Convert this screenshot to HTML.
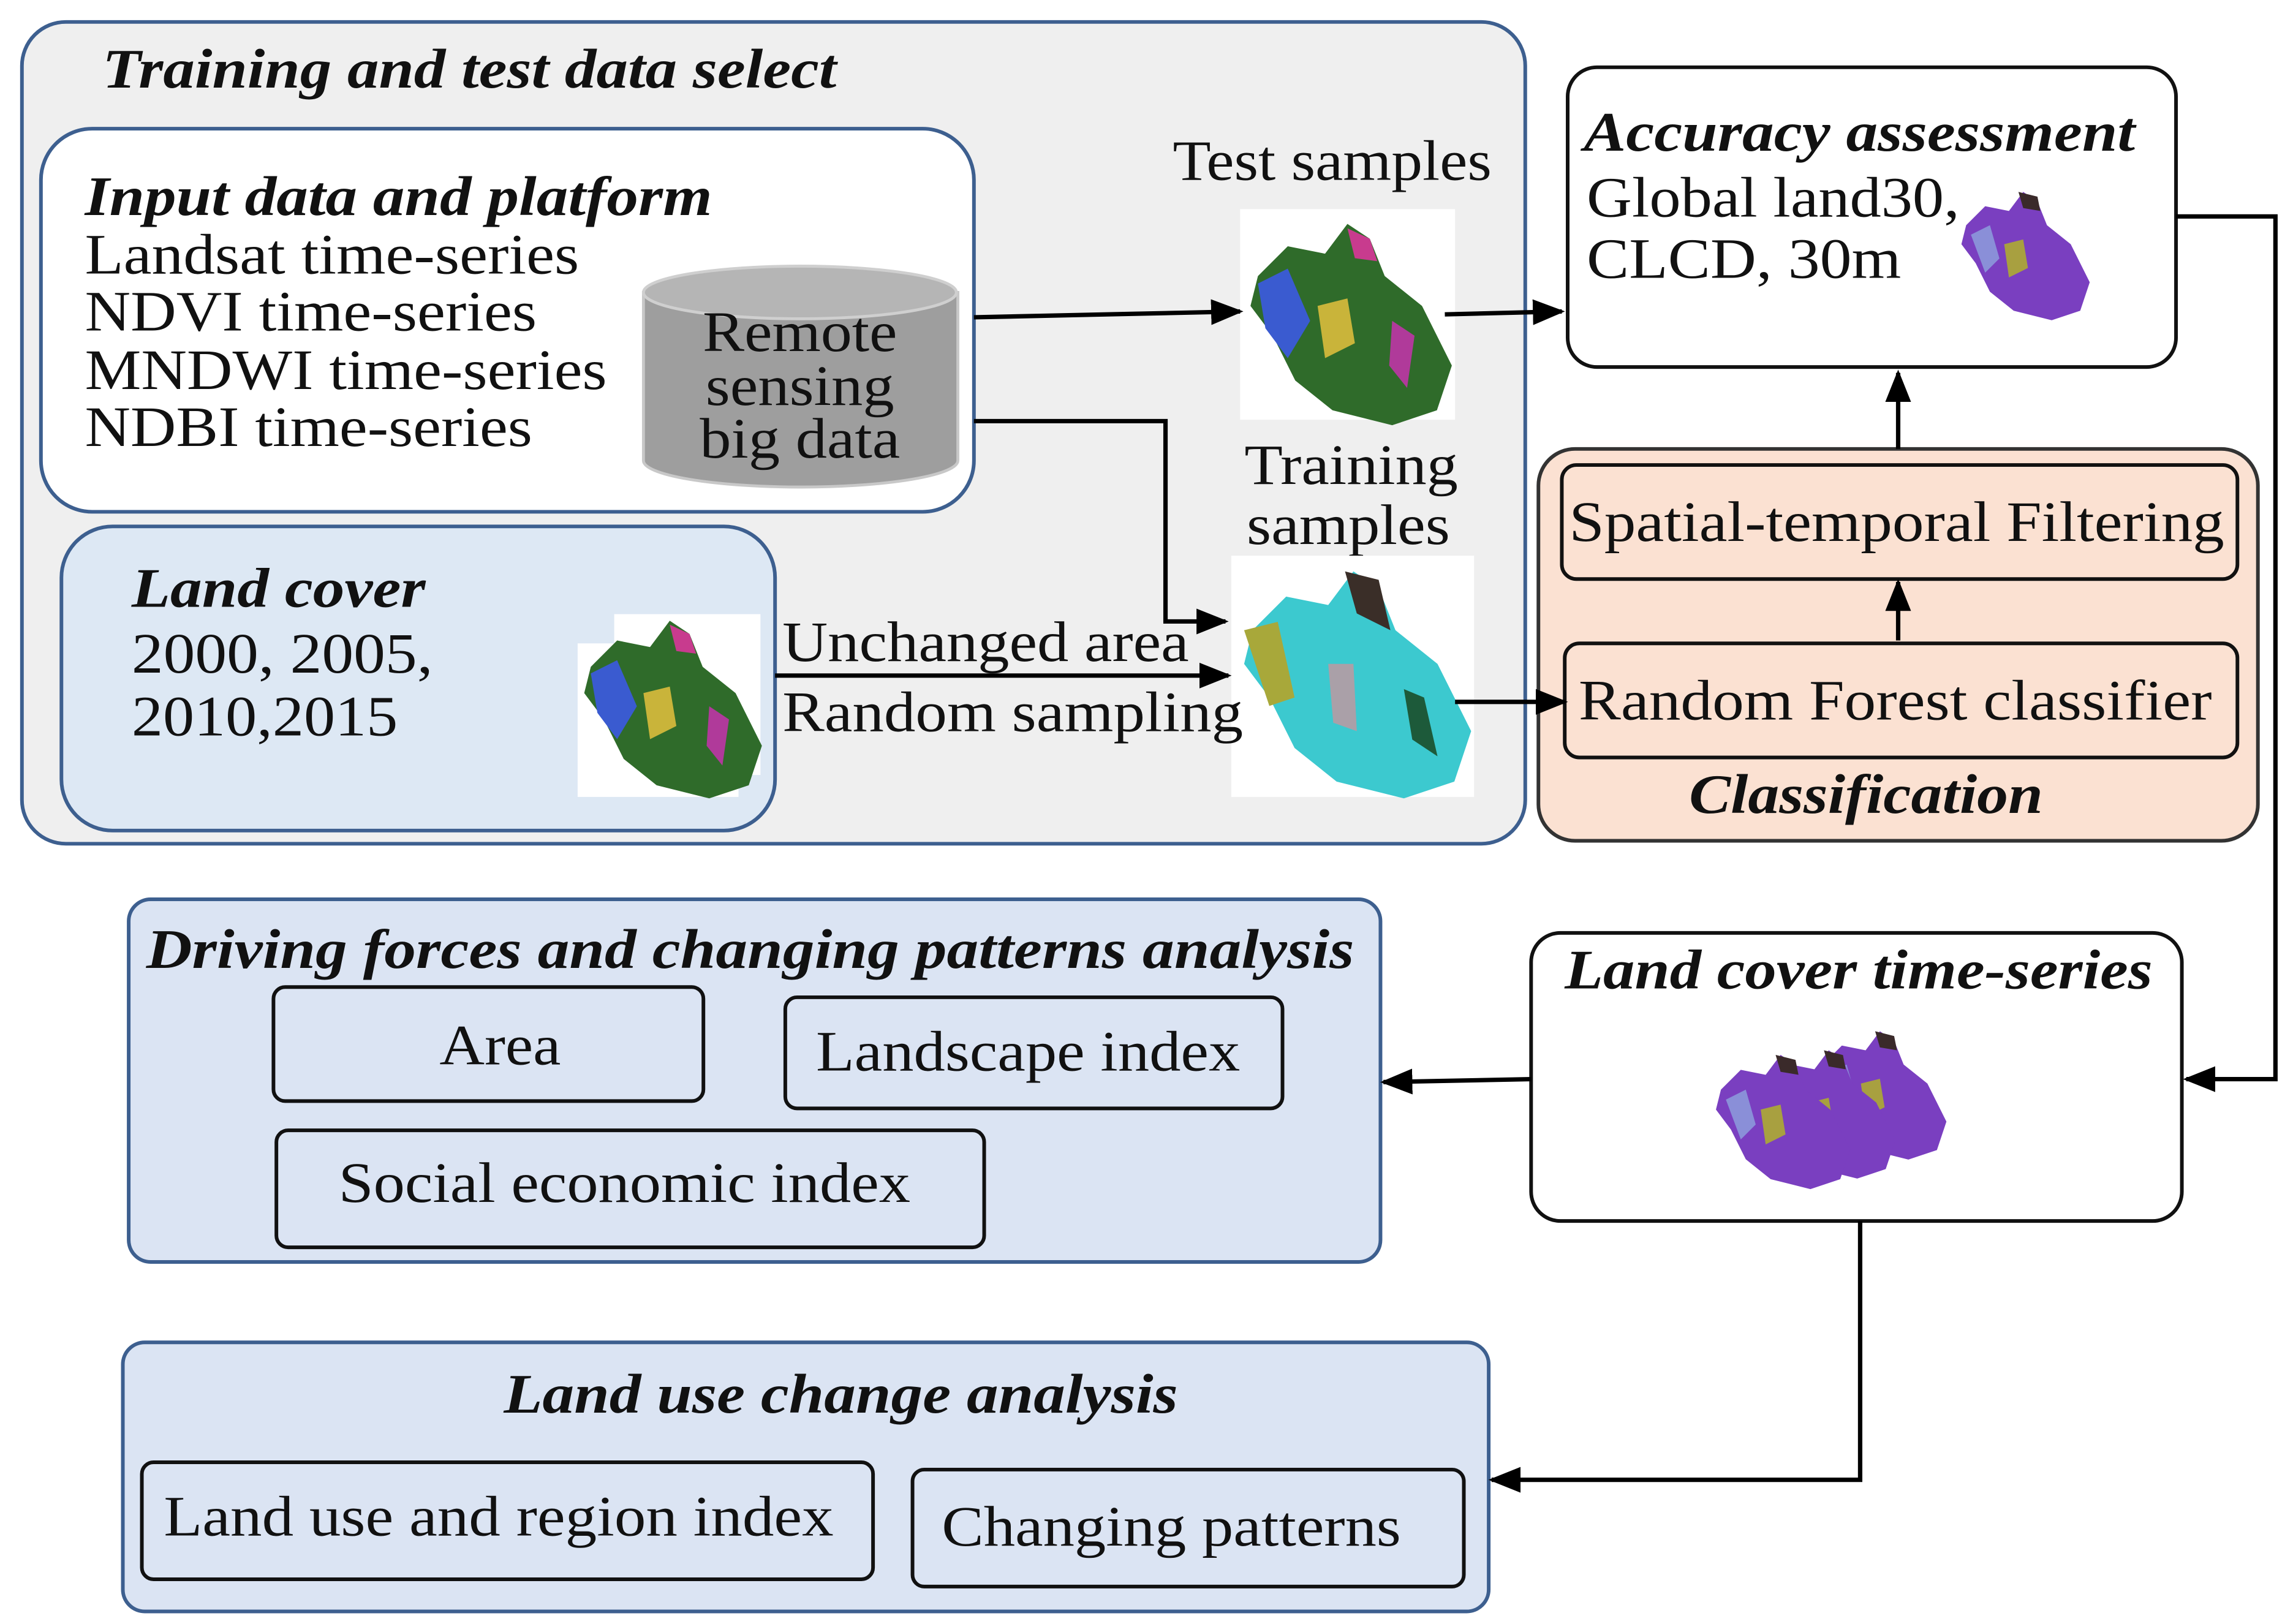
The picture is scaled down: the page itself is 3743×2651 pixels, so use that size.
<!DOCTYPE html>
<html><head><meta charset="utf-8"><style>
html,body{margin:0;padding:0;background:#fff;}
svg{display:block;}
text{font-family:"Liberation Serif",serif;fill:#111;}
.t{font-size:39px;}
.b{font-size:38px;font-weight:bold;font-style:italic;}
</style></head><body>
<svg width="3743" height="2651" viewBox="0 0 1568 1110.6" preserveAspectRatio="none" xmlns="http://www.w3.org/2000/svg">
<defs>
<marker id="a" viewBox="0 0 10 10" refX="9" refY="5" markerWidth="22" markerHeight="22" markerUnits="userSpaceOnUse" orient="auto">
<path d="M0,1 L10,5 L0,9 z" fill="#000"/></marker>
<g id="mapG">
<path d="M10,40 L30,20 L55,25 L70,5 L85,15 L95,40 L120,60 L140,100 L130,130 L100,140 L60,130 L35,110 L20,80 L5,60 Z" fill="#2f6b2a"/>
<path d="M10,45 L30,35 L45,70 L30,95 L15,75 Z" fill="#3a5bd0"/>
<path d="M50,60 L70,55 L75,85 L55,95 Z" fill="#c9b43a"/>
<path d="M70,8 L85,15 L90,30 L75,28 Z" fill="#c83b8e"/>
<path d="M100,70 L115,80 L110,115 L98,100 Z" fill="#b03a9a"/>
</g>
<g id="mapP">
<path d="M10,40 L30,20 L55,25 L70,5 L85,15 L95,40 L120,60 L140,100 L130,130 L100,140 L60,130 L35,110 L20,80 L5,60 Z" fill="#7a3fc0"/>
<path d="M15,50 L35,40 L45,75 L30,90 Z" fill="#8a8fd8"/>
<path d="M50,60 L70,55 L75,85 L55,95 Z" fill="#a8a040"/>
<path d="M65,5 L85,10 L88,25 L70,22 Z" fill="#3a2a2a"/>
</g>
</defs>

<rect x="15" y="15" width="1028" height="562" rx="30" fill="#efefef" stroke="#3d5f8f" stroke-width="2.5"/>
<text class="b" x="70" y="60" textLength="502" lengthAdjust="spacingAndGlyphs">Training and test data select</text>

<rect x="28" y="88" width="638" height="262" rx="35" fill="#fff" stroke="#3d5f8f" stroke-width="2.5"/>
<text class="b" x="58" y="147" textLength="429" lengthAdjust="spacingAndGlyphs">Input data and platform</text>
<text class="t" x="58" y="187" textLength="338" lengthAdjust="spacingAndGlyphs">Landsat time-series</text>
<text class="t" x="58" y="226" textLength="309" lengthAdjust="spacingAndGlyphs">NDVI time-series</text>
<text class="t" x="58" y="266" textLength="357" lengthAdjust="spacingAndGlyphs">MNDWI time-series</text>
<text class="t" x="58" y="305" textLength="306" lengthAdjust="spacingAndGlyphs">NDBI time-series</text>

<path d="M440,200 L440,315 A107,18 0 0 0 655,315 L655,200 Z" fill="#9e9e9e" stroke="#c8c8c8" stroke-width="2"/>
<ellipse cx="547" cy="200" rx="107" ry="18" fill="#b5b5b5" stroke="#cfcfcf" stroke-width="2"/>
<text class="t" x="547" y="240" text-anchor="middle" textLength="133" lengthAdjust="spacingAndGlyphs">Remote</text>
<text class="t" x="547" y="277" text-anchor="middle" textLength="129" lengthAdjust="spacingAndGlyphs">sensing</text>
<text class="t" x="547" y="313" text-anchor="middle" textLength="137" lengthAdjust="spacingAndGlyphs">big data</text>

<rect x="42" y="360" width="488" height="208" rx="35" fill="#dde8f4" stroke="#3d5f8f" stroke-width="2.5"/>
<text class="b" x="90" y="415" textLength="201" lengthAdjust="spacingAndGlyphs">Land cover</text>
<text class="t" x="90" y="460" textLength="206" lengthAdjust="spacingAndGlyphs">2000, 2005,</text>
<text class="t" x="90" y="503" textLength="182" lengthAdjust="spacingAndGlyphs">2010,2015</text>
<rect x="420" y="420" width="100" height="110" fill="#fff"/>
<rect x="395" y="440" width="110" height="105" fill="#fff"/>
<use href="#mapG" transform="translate(395,420) scale(0.9)"/>

<text class="t" x="911" y="123" text-anchor="middle" textLength="218" lengthAdjust="spacingAndGlyphs">Test samples</text>
<rect x="848" y="143" width="147" height="144" fill="#fff"/>
<use href="#mapG" transform="translate(850,148) scale(1.02)"/>
<text class="t" x="924" y="331" text-anchor="middle" textLength="146" lengthAdjust="spacingAndGlyphs">Training</text>
<text class="t" x="922" y="372" text-anchor="middle" textLength="139" lengthAdjust="spacingAndGlyphs">samples</text>
<rect x="842" y="380" width="166" height="165" fill="#fff"/>
<g transform="translate(845,385) scale(1.15)">
<path d="M10,40 L30,20 L55,25 L70,5 L85,15 L95,40 L120,60 L140,100 L130,130 L100,140 L60,130 L35,110 L20,80 L5,60 Z" fill="#3cc9cf"/>
<path d="M5,40 L25,35 L35,80 L20,85 Z" fill="#a8a83a"/>
<path d="M65,5 L85,10 L92,40 L72,30 Z" fill="#3a2e28"/>
<path d="M55,60 L70,60 L72,100 L58,95 Z" fill="#aaa0a8"/>
<path d="M100,75 L112,80 L120,115 L105,105 Z" fill="#1d5a3a"/>
</g>
<text class="t" x="535" y="452" textLength="278" lengthAdjust="spacingAndGlyphs">Unchanged area</text>
<text class="t" x="535" y="500" textLength="315" lengthAdjust="spacingAndGlyphs">Random sampling</text>

<rect x="1072" y="46" width="416" height="205" rx="20" fill="#fff" stroke="#111" stroke-width="2.5"/>
<text class="b" x="1083" y="103" textLength="377" lengthAdjust="spacingAndGlyphs">Accuracy assessment</text>
<text class="t" x="1085" y="148" textLength="255" lengthAdjust="spacingAndGlyphs">Global land30,</text>
<text class="t" x="1085" y="190" textLength="215" lengthAdjust="spacingAndGlyphs">CLCD, 30m</text>
<use href="#mapP" transform="translate(1338,128) scale(0.65)"/>

<rect x="1052" y="307" width="492" height="268" rx="25" fill="#fbe1d2" stroke="#333" stroke-width="2.5"/>
<rect x="1068" y="318" width="462" height="78" rx="10" fill="#fbe1d2" stroke="#111" stroke-width="2.5"/>
<text class="t" x="1297" y="370" text-anchor="middle" textLength="448" lengthAdjust="spacingAndGlyphs">Spatial-temporal Filtering</text>
<rect x="1070" y="440" width="460" height="78" rx="10" fill="#fbe1d2" stroke="#111" stroke-width="2.5"/>
<text class="t" x="1296" y="492" text-anchor="middle" textLength="433" lengthAdjust="spacingAndGlyphs">Random Forest classifier</text>
<text class="b" x="1276" y="556" text-anchor="middle" textLength="242" lengthAdjust="spacingAndGlyphs">Classification</text>

<rect x="1047" y="638" width="445" height="197" rx="20" fill="#fff" stroke="#111" stroke-width="2.5"/>
<text class="b" x="1271" y="676" text-anchor="middle" textLength="402" lengthAdjust="spacingAndGlyphs">Land cover time-series</text>
<use href="#mapP" transform="translate(1240,702) scale(0.65)"/>
<use href="#mapP" transform="translate(1205,715) scale(0.65)"/>
<use href="#mapP" transform="translate(1170,718) scale(0.68)"/>

<rect x="88" y="615" width="856" height="248" rx="15" fill="#dbe4f3" stroke="#3d5f8f" stroke-width="2.5"/>
<text class="b" x="513" y="662" text-anchor="middle" textLength="826" lengthAdjust="spacingAndGlyphs">Driving forces and changing patterns analysis</text>
<rect x="187" y="675" width="294" height="78" rx="8" fill="#dbe4f3" stroke="#111" stroke-width="2.5"/>
<text class="t" x="342" y="728" text-anchor="middle" textLength="83" lengthAdjust="spacingAndGlyphs">Area</text>
<rect x="537" y="682" width="340" height="76" rx="8" fill="#dbe4f3" stroke="#111" stroke-width="2.5"/>
<text class="t" x="703" y="732" text-anchor="middle" textLength="290" lengthAdjust="spacingAndGlyphs">Landscape index</text>
<rect x="189" y="773" width="484" height="80" rx="8" fill="#dbe4f3" stroke="#111" stroke-width="2.5"/>
<text class="t" x="427" y="822" text-anchor="middle" textLength="391" lengthAdjust="spacingAndGlyphs">Social economic index</text>

<rect x="84" y="918" width="934" height="184" rx="15" fill="#dbe4f3" stroke="#3d5f8f" stroke-width="2.5"/>
<text class="b" x="575" y="966" text-anchor="middle" textLength="461" lengthAdjust="spacingAndGlyphs">Land use change analysis</text>
<rect x="97" y="1000" width="500" height="80" rx="8" fill="#dbe4f3" stroke="#111" stroke-width="2.5"/>
<text class="t" x="341" y="1050" text-anchor="middle" textLength="458" lengthAdjust="spacingAndGlyphs">Land use and region index</text>
<rect x="624" y="1005" width="377" height="80" rx="8" fill="#dbe4f3" stroke="#111" stroke-width="2.5"/>
<text class="t" x="801" y="1057" text-anchor="middle" textLength="314" lengthAdjust="spacingAndGlyphs">Changing patterns</text>

<g stroke="#000" stroke-width="3" fill="none">
<path d="M666,217 L848,213" marker-end="url(#a)"/>
<path d="M988,215 L1068,213" marker-end="url(#a)"/>
<path d="M666,288 L797,288 L797,425 L838,425" marker-end="url(#a)"/>
<path d="M530,462 L840,462" marker-end="url(#a)"/>
<path d="M995,480 L1070,480" marker-end="url(#a)"/>
<path d="M1298,438 L1298,398" marker-end="url(#a)"/>
<path d="M1298,307 L1298,255" marker-end="url(#a)"/>
<path d="M1488,148 L1556,148 L1556,738 L1495,738" marker-end="url(#a)"/>
<path d="M1047,738 L946,740" marker-end="url(#a)"/>
<path d="M1272,835 L1272,1012 L1020,1012" marker-end="url(#a)"/>
</g>
</svg>
</body></html>
